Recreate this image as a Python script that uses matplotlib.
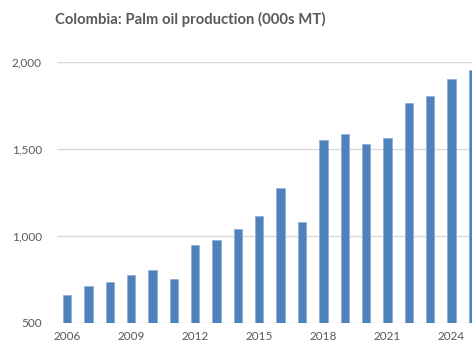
import matplotlib
matplotlib.use('Agg')
import matplotlib.pyplot as plt
from matplotlib.ticker import FuncFormatter

# Colombia palm oil production (000s MT)
years = list(range(2006, 2026))
production = [659, 713, 732, 776, 805, 751, 945, 974, 1040, 1112,
              1276, 1077, 1551, 1583, 1529, 1560, 1763, 1802, 1901, 1951]
tick_years = [2006, 2009, 2012, 2015, 2018, 2021, 2024]
y_ticks = [500, 1000, 1500, 2000]

plt.rcParams['font.family'] = ['Lato', 'DejaVu Sans']
text_col = '#595959'

fig = plt.figure(figsize=(4.72, 3.47), dpi=100)
ax = fig.add_axes([57 / 472, 1 - 322.7 / 347, 1 - 57 / 472, (322.7 - 61.7) / 347])

ax.bar(years, production, width=0.39, color='#4F81BD',
       edgecolor='#8FB0DA', linewidth=0.6, zorder=3)

ax.set_xlim(2005.53, 2024.96)
ax.set_ylim(500, 2000)
ax.set_yticks(y_ticks)
ax.yaxis.set_major_formatter(FuncFormatter(lambda v, p: f'{int(v):,}'))
ax.set_xticks(tick_years)
ax.grid(axis='y', color='#D9D9D9', linewidth=1.0, zorder=0)
ax.set_axisbelow(True)
for s in ax.spines.values():
    s.set_visible(False)
ax.tick_params(axis='both', length=0, labelsize=8.5, colors=text_col)
ax.tick_params(axis='y', pad=11)
ax.tick_params(axis='x', pad=6)

fig.text(55 / 472, 1 - 19 / 347, 'Colombia: Palm oil production (000s MT)',
         fontsize=10.7, fontweight='bold', color=text_col, va='center', ha='left')

fig.savefig('out.png', dpi=100)
